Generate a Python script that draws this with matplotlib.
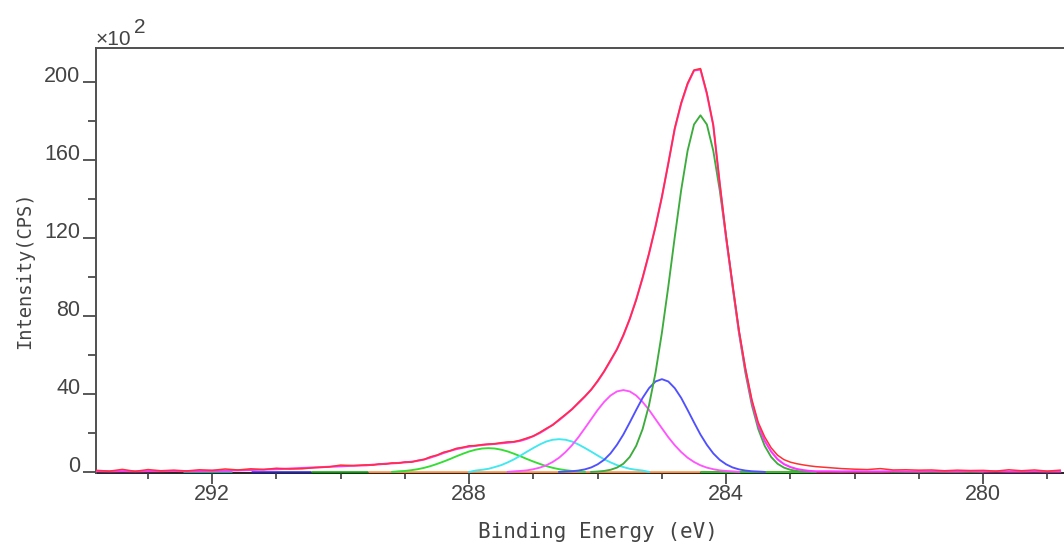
import matplotlib
matplotlib.use("Agg")
import matplotlib.pyplot as plt
import numpy as np

plt.rcParams['font.family'] = ['Liberation Sans', 'DejaVu Sans']

STEP = 0.1

def channels(start, vals, step=STEP):
    # binding energy channels, counting down from start
    return np.round(start - step * np.arange(len(vals)), 2)

# fitted components (x10^2 CPS), each listed from its high-BE end
c1_start = 286.1   # C-C / C=C, green
c1_cps = [0.0, 0.2, 0.5, 1.1, 2.2, 4.2, 7.7, 13.4, 22.0, 34.3, 50.8, 71.4, 95.2,
          120.5, 144.6, 164.8, 178.3, 183.0, 178.3, 164.8, 144.6, 120.5, 95.2,
          71.4, 50.8, 34.3, 22.0, 13.4, 7.7, 4.2, 2.2, 1.1, 0.5, 0.2, 0.0]
c2_start = 286.6   # blue
c2_cps = [0.0, 0.2, 0.35, 0.7, 1.3, 2.3, 3.9, 6.2, 9.5, 13.9, 19.2, 25.4, 31.8,
          38.0, 43.0, 46.4, 47.6, 46.4, 43.0, 38.0, 31.8, 25.4, 19.2, 13.9, 9.5,
          6.2, 3.9, 2.3, 1.3, 0.7, 0.35, 0.2, 0.0]
c3_start = 287.4   # magenta
c3_cps = [0.0, 0.3, 0.5, 0.8, 1.4, 2.2, 3.4, 5.1, 7.3, 10.2, 13.7, 17.8, 22.4,
          27.1, 31.8, 35.9, 39.2, 41.3, 42.0, 41.3, 39.2, 35.9, 31.8, 27.1, 22.4,
          17.8, 13.7, 10.2, 7.3, 5.1, 3.4, 2.2, 1.4, 0.8, 0.5, 0.3, 0.0]
c4_start = 288.0   # cyan
c4_cps = [0.0, 0.7, 1.1, 1.6, 2.5, 3.5, 4.9, 6.5, 8.4, 10.4, 12.3, 14.1, 15.6,
          16.5, 16.8, 16.5, 15.6, 14.1, 12.3, 10.4, 8.4, 6.5, 4.9, 3.5, 2.5, 1.6,
          1.1, 0.7, 0.0]
c5_start = 289.2   # light green
c5_cps = [0.0, 0.3, 0.5, 0.9, 1.4, 2.1, 3.0, 4.1, 5.3, 6.6, 8.0, 9.3, 10.5, 11.4,
          12.0, 12.2, 12.0, 11.4, 10.5, 9.3, 8.0, 6.6, 5.3, 4.1, 3.0, 2.1, 1.4,
          0.9, 0.5, 0.3, 0.0]

# fit envelope (magenta)
env_left_start = 293.8
env_left = [0.4, 0.3, 0.4, 0.3, 0.4, 0.4, 0.5, 0.4, 0.5, 0.6, 0.7, 0.8, 1.0,
            1.2, 1.4, 1.7, 2.0, 2.3, 2.6, 2.9, 3.2]
env_mid_start = 289.6
env_mid = [3.4, 3.7, 3.9, 4.2, 4.4, 4.6, 4.9, 5.2, 5.7, 6.4, 7.4, 8.5, 9.7, 10.8,
           11.7, 12.4, 13.0, 13.4, 13.8, 14.1, 14.4, 14.7, 15.0, 15.4, 16.0,
           17.0, 18.4, 20.0, 22.0, 24.2, 26.6, 29.3, 32.2, 35.3, 38.6, 42.3,
           46.5, 51.5, 57.0, 63.0, 70.0, 78.5, 88.5, 99.5, 112.0, 126.0, 141.0,
           158.5, 176.0, 189.0, 199.0, 206.0, 206.5, 194.0, 178.0, 148.0, 120.0,
           96.0, 72.0, 52.5, 36.0, 24.0, 16.0, 10.5, 6.5, 4.0, 2.5, 1.5, 0.9,
           0.5, 0.3]
env_right_start = 282.4
env_right = [0.3, 0.2, 0.3, 0.2, 0.2, 0.3, 0.2, 0.2, 0.3, 0.2, 0.2, 0.3, 0.2,
             0.3, 0.2, 0.2, 0.3, 0.2, 0.2]

# measured spectrum (red)
raw_left_start = 293.8
raw_left = [0.8, 0.4, 1.3, 0.3, 1.2, 0.6, 0.9, 0.5, 1.1, 0.8, 1.5, 1.0, 1.6, 1.2,
            1.9, 1.5, 1.6, 2.2, 2.5, 3.5, 3.2]
raw_mid_start = 289.6
raw_mid = [3.6, 3.5, 4.1, 4.0, 4.6, 4.5, 5.1, 5.0, 5.9, 6.4, 7.8, 8.6, 10.1, 10.8,
           12.1, 12.6, 13.4, 13.5, 14.0, 14.3, 14.4, 15.0, 15.4, 15.5, 16.3,
           17.4, 18.4, 20.3, 22.3, 24.0, 26.9, 29.5, 32.1, 35.6, 38.8, 42.2,
           46.8, 51.6, 57.4, 62.8, 70.3, 78.6, 88.2, 99.9, 112.3, 125.7, 141.3,
           158.2, 176.4, 189.4, 199.5, 206.2, 207.0, 194.6, 177.8, 148.5, 121.0,
           96.4, 72.8, 53.3, 37.2, 25.4, 18.0, 12.4, 8.6, 6.3, 5.0, 4.2, 3.6,
           3.1, 2.7]
raw_right_start = 282.4
raw_right = [2.2, 1.7, 1.4, 1.2, 1.7, 1.0, 1.1, 0.9, 1.0, 0.6, 0.9, 0.7, 0.8,
             0.4, 1.1, 0.6, 1.0, 0.4, 0.9]

# zero-height baseline pieces along the axis: (from, to, colour)
base_segments = [(292.45, 291.7, '#2a9d9d'),
                 (291.4, 290.46, '#2020d0'),
                 (290.46, 289.58, '#00a000'),
                 (289.58, 284.4, '#ff8c3a'),
                 (284.4, 281.45, '#a04000'),
                 (284.4, 282.6, '#22cc22'),
                 (281.45, 280.0, '#009000')]

fig = plt.figure(figsize=(10.64, 5.46), dpi=100)
ax = fig.add_axes([96 / 1064, 73.5 / 546, 1 - 96 / 1064, 425 / 546])

for x0, x1, col in base_segments:
    ax.plot([x0, x1], [0, 0], color=col, lw=1.8, solid_capstyle='butt', zorder=2)

comps = [(c5_start, c5_cps, '#33dd33'),
         (c4_start, c4_cps, '#40e8f0'),
         (c3_start, c3_cps, '#ff55ff'),
         (c2_start, c2_cps, '#5050ff'),
         (c1_start, c1_cps, '#3cac3c')]
for start, vals, col in comps:
    ax.plot(channels(start, vals), vals, color=col, lw=1.35, zorder=3)

env_be = np.concatenate([channels(env_left_start, env_left, 0.2),
                         channels(env_mid_start, env_mid),
                         channels(env_right_start, env_right, 0.2)])
env_cps = np.concatenate([env_left, env_mid, env_right])
raw_be = np.concatenate([channels(raw_left_start, raw_left, 0.2),
                         channels(raw_mid_start, raw_mid),
                         channels(raw_right_start, raw_right, 0.2)])
raw_cps = np.concatenate([raw_left, raw_mid, raw_right])

ax.plot(env_be, env_cps, color='#ff33ff', lw=1.5, zorder=4)
ax.plot(raw_be, raw_cps, color='#ff3030', lw=1.1, zorder=5)

ax.set_xlim(293.81, 278.74)
ax.set_ylim(-0.3, 217.8)

ax.set_xticks([292, 288, 284, 280])
ax.set_xticks(np.arange(279, 294), minor=True)
ax.set_xticklabels(['292', '288', '284', '280'])
ax.set_yticks([0, 40, 80, 120, 160, 200])
ax.set_yticks([20, 60, 100, 140, 180], minor=True)
ax.set_yticklabels(['0', '40', '80', '120', '160', '200'], va='baseline')

ax.tick_params(axis='x', which='major', direction='out', length=8, width=1.2,
               pad=0, labelsize=15.5, colors='#3c3c3c', labelcolor='#444444')
ax.tick_params(axis='x', which='minor', direction='out', length=4.3, width=1.2,
               colors='#3c3c3c')
ax.tick_params(axis='y', which='major', direction='out', length=9.4, width=1.2,
               pad=2, labelsize=15.5, colors='#3c3c3c', labelcolor='#444444')
ax.tick_params(axis='y', which='minor', direction='out', length=5.5, width=1.2,
               colors='#3c3c3c')

ax.spines['right'].set_visible(False)
for side in ['left', 'top']:
    ax.spines[side].set_color('#505050')
    ax.spines[side].set_linewidth(1.4)
ax.spines['bottom'].set_color('#222222')
ax.spines['bottom'].set_linewidth(1.4)
ax.spines['bottom'].set_zorder(1)

fig.text(598 / 1064, 1 - 531.7 / 546, 'Binding Energy (eV)', family='DejaVu Sans Mono',
         fontsize=15, color='#444444', ha='center', va='center')
fig.text(25 / 1064, 1 - 270 / 546, 'Intensity(CPS)', family='DejaVu Sans Mono',
         fontsize=13.5, color='#444444', ha='center', va='center', rotation=90)
fig.text(96 / 1064, 1 - 45 / 546, '\u00d710', fontsize=15, color='#444444',
         ha='left', va='baseline')
fig.text(134 / 1064, 1 - 33 / 546, '2', fontsize=15, color='#444444',
         ha='left', va='baseline')

fig.savefig('out.png', dpi=100)
